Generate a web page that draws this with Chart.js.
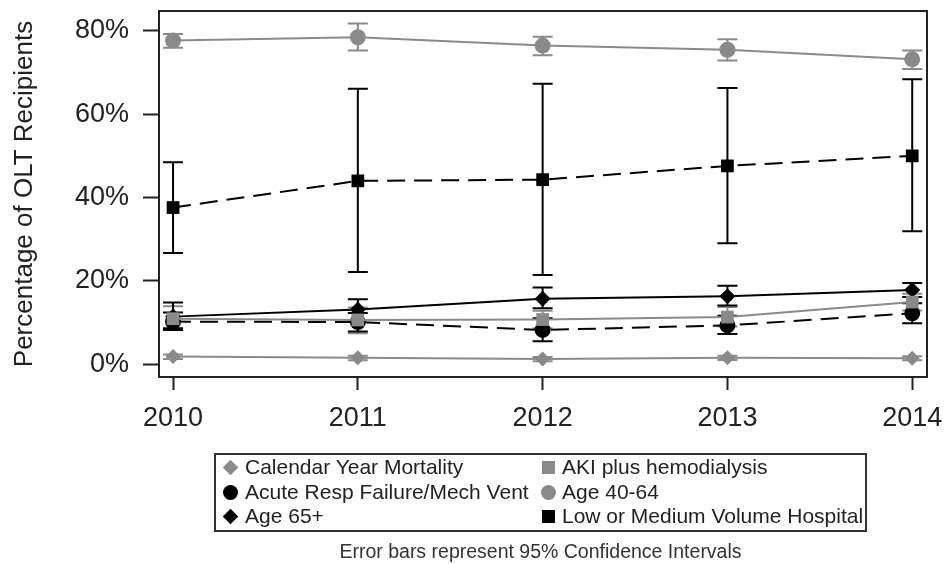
<!DOCTYPE html>
<html>
<head>
<meta charset="utf-8">
<script src="https://cdn.jsdelivr.net/npm/chart.js@4"></script>
<style>
  body { margin: 0; background: #fff; font-family: "Liberation Sans", Arial, sans-serif; }
  #wrap { position: relative; width: 947px; height: 564px; }
  #legend {
    position: absolute; left: 214px; top: 453px; width: 649px; height: 75px;
    border: 2px solid #333; box-sizing: content-box;
    font-size: 21px; color: #222;
  }
  .txt { position: absolute; height: 24px; line-height: 24px; white-space: nowrap; }
  .mk { position: absolute; }
  .circle { width: 15px; height: 15px; border-radius: 50%; }
  .square { width: 13px; height: 13px; }
  .diamond { width: 11px; height: 11px; transform: rotate(45deg); }
  #caption { position: absolute; left: 214px; width: 653px; top: 540px; text-align: center; font-size: 19.5px; color: #333; }
</style>
</head>
<body>
<div id="wrap">
  <canvas id="chart" width="947" height="564"></canvas>
  <div id="legend"></div>
  <div id="caption">Error bars represent 95% Confidence Intervals</div>
</div>
<script>
const years = [2010, 2011, 2012, 2013, 2014];
const yTicks = [0, 20, 40, 60, 80];

const mortality   = [1.8, 1.5, 1.2, 1.5, 1.4];
const mortalityLo = [1.2, 0.9, 0.7, 1.0, 0.9];
const mortalityHi = [2.3, 2.0, 1.7, 2.0, 1.9];

const aki   = [10.9, 10.6, 10.7, 11.3, 14.9];
const akiLo = [8.3, 7.4, 8.6, 9.0, 12.9];
const akiHi = [13.9, 13.6, 12.8, 13.7, 16.9];

const acute   = [10.2, 10.1, 8.2, 9.3, 12.2];
const acuteLo = [8.2, 7.8, 5.5, 7.2, 9.8];
const acuteHi = [12.4, 12.3, 11.0, 11.6, 14.6];

const age4064   = [77.7, 78.5, 76.5, 75.5, 73.2];
const age4064Lo = [76.0, 75.3, 74.2, 72.9, 70.9];
const age4064Hi = [79.3, 81.8, 78.6, 78.0, 75.3];

const age65   = [11.4, 13.1, 15.7, 16.3, 17.8];
const age65Lo = [8.6, 10.6, 13.4, 14.1, 16.1];
const age65Hi = [14.8, 15.6, 18.4, 18.8, 19.5];

const lowVol   = [37.6, 44.0, 44.3, 47.6, 50.0];
const lowVolLo = [26.7, 22.1, 21.4, 29.0, 31.9];
const lowVolHi = [48.5, 66.1, 67.3, 66.3, 68.4];

const GRAY = '#8a8a8a';
const BLACK = '#000';

function series(label, vals, lo, hi, color, style, radius, dashed) {
  return {
    label: label,
    data: years.map((y, i) => ({ x: y, y: vals[i] })),
    lo: lo, hi: hi,
    borderColor: color,
    backgroundColor: color,
    borderWidth: 2,
    borderDash: dashed ? [18, 9] : [],
    pointStyle: style,
    pointRadius: radius,
    pointBorderWidth: 0,
    pointBackgroundColor: color,
    tension: 0
  };
}

const datasets = [
  series('Calendar Year Mortality', mortality, mortalityLo, mortalityHi, GRAY, 'rectRot', 7.5, false),
  series('AKI plus hemodialysis', aki, akiLo, akiHi, GRAY, 'rect', 9, false),
  series('Acute Resp Failure/Mech Vent', acute, acuteLo, acuteHi, BLACK, 'circle', 8, true),
  series('Age 40-64', age4064, age4064Lo, age4064Hi, GRAY, 'circle', 8, false),
  series('Age 65+', age65, age65Lo, age65Hi, BLACK, 'rectRot', 8, false),
  series('Low or Medium Volume Hospital', lowVol, lowVolLo, lowVolHi, BLACK, 'rect', 9, true)
];

// error bars + frame around the plot
const errorBars = {
  id: 'errorBars',
  beforeDatasetsDraw(chart) {
    const ctx = chart.ctx;
    const xs = chart.scales.x, ys = chart.scales.y;
    ctx.save();
    chart.data.datasets.forEach(ds => {
      ctx.strokeStyle = ds.borderColor;
      ctx.lineWidth = 2;
      ds.data.forEach((p, i) => {
        const x = xs.getPixelForValue(p.x);
        const y1 = ys.getPixelForValue(ds.lo[i]);
        const y2 = ys.getPixelForValue(ds.hi[i]);
        ctx.beginPath();
        ctx.moveTo(x, y1); ctx.lineTo(x, y2);
        ctx.moveTo(x - 10, y1); ctx.lineTo(x + 10, y1);
        ctx.moveTo(x - 10, y2); ctx.lineTo(x + 10, y2);
        ctx.stroke();
      });
    });
    ctx.restore();
  },
  afterDraw(chart) {
    const a = chart.chartArea;
    const ctx = chart.ctx;
    ctx.save();
    ctx.strokeStyle = '#222';
    ctx.lineWidth = 2;
    ctx.strokeRect(a.left, a.top, a.right - a.left, a.bottom - a.top);
    ctx.restore();
  }
};

Chart.defaults.font.family = '"Liberation Sans", Arial, sans-serif';
Chart.defaults.color = '#222';

new Chart(document.getElementById('chart'), {
  type: 'line',
  data: { datasets: datasets },
  options: {
    responsive: false,
    animation: false,
    layout: { padding: { top: 11, right: 20, bottom: 127, left: 0 } },
    plugins: { legend: { display: false }, tooltip: { enabled: false } },
    scales: {
      x: {
        type: 'linear',
        min: 2009.924,
        max: 2014.08,
        afterBuildTicks: s => { s.ticks = years.map(v => ({ value: v })); },
        afterFit: s => { s.height = 60; s.paddingLeft = 0; s.paddingRight = 0; },
        grid: { drawOnChartArea: false, tickLength: 13, tickWidth: 2, color: '#222' },
        border: { color: '#222', width: 2 },
        ticks: { font: { size: 27 }, padding: 12, color: '#222', maxRotation: 0, callback: v => String(v) }
      },
      y: {
        min: -3.1,
        max: 84.8,
        afterBuildTicks: s => { s.ticks = yTicks.map(v => ({ value: v })); },
        afterFit: s => { s.width = 159; s.paddingTop = 0; s.paddingBottom = 0; },
        grid: { drawOnChartArea: false, tickLength: 16, tickWidth: 2, color: '#222' },
        border: { color: '#222', width: 2 },
        ticks: { font: { size: 27 }, padding: 14, color: '#222', callback: v => v + '%' },
        title: { display: true, text: 'Percentage of OLT Recipients', font: { size: 26 }, color: '#222', padding: { top: 9, bottom: 0 } }
      }
    }
  },
  plugins: [errorBars]
});

// html legend, two columns (positions relative to legend box)
const legendEl = document.getElementById('legend');
const shapeClass = { rectRot: 'diamond', rect: 'square', circle: 'circle' };
const markX = [14, 332];
const textX = [29, 346];
const rowY = [12, 37, 61];
datasets.forEach((ds, i) => {
  const col = i % 2, row = Math.floor(i / 2);
  const mk = document.createElement('div');
  const cls = shapeClass[ds.pointStyle];
  mk.className = 'mk ' + cls;
  const sz = cls === 'circle' ? 15 : cls === 'square' ? 13 : 11;
  mk.style.left = (markX[col] - sz / 2) + 'px';
  mk.style.top = (rowY[row] - sz / 2) + 'px';
  mk.style.background = ds.borderColor;
  legendEl.appendChild(mk);
  const t = document.createElement('div');
  t.className = 'txt';
  t.style.left = textX[col] + 'px';
  t.style.top = (rowY[row] - 12) + 'px';
  t.textContent = ds.label;
  legendEl.appendChild(t);
});
</script>
</body>
</html>
